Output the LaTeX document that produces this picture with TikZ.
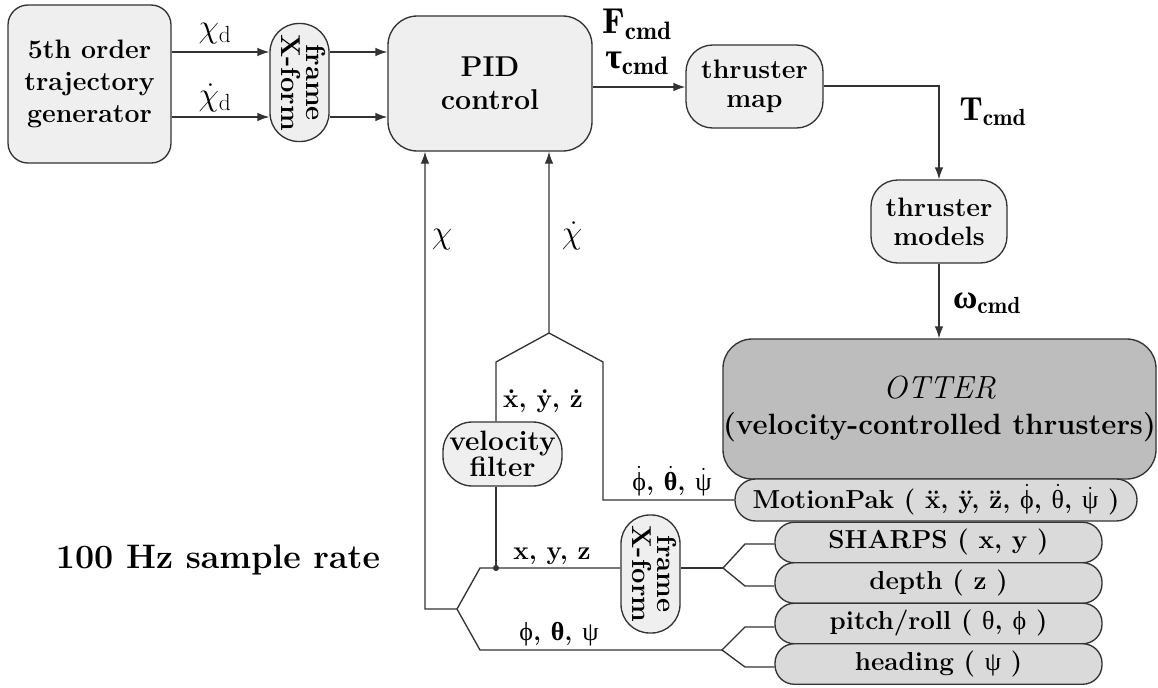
\documentclass[tikz,border=0pt]{standalone}
\usepackage{amsmath}
\usepackage{fontspec}
\newfontfamily\grk{Liberation Serif}
\newcommand\gk[1]{\text{\grk\mdseries #1}}
\newcommand\gkb[1]{\text{\grk\bfseries #1}}
\usetikzlibrary{arrows.meta}
\definecolor{lfill}{HTML}{EFEFEF}
\definecolor{mfill}{HTML}{DADADA}
\definecolor{dfill}{HTML}{BDBDBD}
\definecolor{lncol}{HTML}{333333}
\begin{document}
\begin{tikzpicture}[x=0.75pt,y=-0.75pt,
  every node/.style={font=\fontsize{19.5}{23}\selectfont\bfseries, text=black},
  box/.style={draw=lncol, line width=1pt, fill=lfill, align=center, inner sep=0pt},
  sensor/.style={box, fill=mfill, minimum width=327*.75pt, minimum height=40.5*.75pt, rounded corners=14.5pt},
  xform/.style={box, minimum width=59*.75pt, minimum height=118*.75pt, rounded corners=21.5pt,
      font=\fontsize{20.5}{21}\selectfont\bfseries},
  arr/.style={-{Latex[length=9pt,width=6.5pt]}},
  wire/.style={draw=lncol, line width=1pt},
  lbl/.style={inner sep=0pt}]
\useasboundingbox (0,0) rectangle (1158,687);

% nodes
\node[box, minimum width=163*.75pt, minimum height=158*.75pt, rounded corners=15pt,
      font=\fontsize{20}{24}\selectfont\bfseries] (gen) at (89.5,84) {5th order\\trajectory\\generator};
\node[xform] (fx1) at (299.5,82.5)
  {\rotatebox{-90}{\begin{tabular}{@{}c@{}}frame\\[-2.5pt]X-form\end{tabular}}};
\node[box, minimum width=204*.75pt, minimum height=135*.75pt, rounded corners=22pt,
      font=\fontsize{21.5}{25}\selectfont\bfseries] (pid) at (490,83.5) {PID\\control};
\node[box, minimum width=137*.75pt, minimum height=83*.75pt, rounded corners=20pt,
      font=\fontsize{20}{22}\selectfont\bfseries] (tmap) at (754.5,86.5) {thruster\\map};
\node[box, minimum width=136*.75pt, minimum height=83*.75pt, rounded corners=20pt,
      font=\fontsize{20}{22}\selectfont\bfseries] (tmod) at (939,221.5) {thruster\\models};
\node[box, fill=dfill, minimum width=433*.75pt, minimum height=140*.75pt, rounded corners=22pt,
      font=\fontsize{22}{27}\selectfont\bfseries] (otter) at (939.5,409)
  {{\fontsize{24}{27}\selectfont\mdseries\itshape OTTER}\\(velocity-controlled thrusters)};
\node[box, fill=mfill, minimum width=402*.75pt, minimum height=42*.75pt, rounded corners=15.5pt] (mpak) at (936,500)
  {MotionPak ( \"x, \"y, \"z, $\dot{\gk{ϕ}}$, $\dot{\gk{θ}}$, $\dot{\gk{ψ}}$ )};
\node[sensor] (sharps) at (938.5,542.5) {SHARPS ( x, y )};
\node[sensor] (depth) at (938.5,583) {depth ( z )};
\node[sensor] (pitch) at (938.5,623.5) {pitch/roll ( \gk{θ}, \gk{ϕ} )};
\node[sensor] (head) at (938.5,664) {heading ( \gk{ψ} )};
\node[box, minimum width=119*.75pt, minimum height=64*.75pt, rounded corners=22pt,
      font=\fontsize{21}{20}\selectfont\bfseries] (vf) at (502.5,454) {velocity\\filter};
\node[xform] (fx2) at (650.5,574)
  {\rotatebox{-90}{\begin{tabular}{@{}c@{}}frame\\[-2.5pt]X-form\end{tabular}}};

\coordinate (j) at (496,568);

% connectors
\draw[wire,arr] (gen.east |- 0,52) -- (fx1.west |- 0,52);
\draw[wire,arr] (gen.east |- 0,117) -- (fx1.west |- 0,117);
\draw[wire,arr] (fx1.east |- 0,52) -- (pid.west |- 0,52);
\draw[wire,arr] (fx1.east |- 0,117) -- (pid.west |- 0,117);
\draw[wire,arr] (pid.east |- 0,87) -- (tmap.west |- 0,87);
\draw[wire,arr] (tmap.east |- 0,86) -| (tmod.north);
\draw[wire,arr] (tmod.south) -- (tmod.south |- otter.north);
\draw[wire,arr] (mpak.west) -- (603,500) -- (603,362) -- (549,333) -- (pid.south -| 549,0);
\draw[wire] (549,333) -- (496,362) -- (vf.north -| 496,0);
\draw[wire] (vf.south -| 496,0) -- (j);
\draw[wire,arr] (fx2.west |- j) -- (480,568) -- (457,609) -- (425,609) -- (pid.south -| 425,0);
\draw[wire] (457,609) -- (480,650) -- (722,650);
\draw[wire] (fx2.east |- j) -- (723,568);
\draw[wire] (sharps.west |- 0,544) -- (745,544) -- (723,568) -- (745,586) -- (depth.west |- 0,586);
\draw[wire] (pitch.west |- 0,627) -- (745,627) -- (722,650) -- (745,667) -- (head.west |- 0,667);
\fill[lncol] (j) circle (2.3pt);

% labels
\node[lbl] at (215,34) {\fontsize{25}{25}\selectfont$\chi_{\mathrm{d}}$};
\node[lbl] at (215,98) {\fontsize{25}{25}\selectfont$\dot\chi_{\mathrm{d}}$};
\node[lbl] at (637,24) {\fontsize{27}{27}\selectfont$\mathbf{F}_{\mathbf{cmd}}$};
\node[lbl] at (637,63) {\fontsize{27}{27}\selectfont$\gkb{τ}_{\mathbf{cmd}}$};
\node[lbl] at (993,112) {\fontsize{25}{25}\selectfont$\mathbf{T}_{\mathbf{cmd}}$};
\node[lbl] at (987,303) {\fontsize{25}{25}\selectfont$\gkb{ω}_{\mathbf{cmd}}$};
\node[lbl] at (442,240) {\fontsize{26}{26}\selectfont$\chi$};
\node[lbl] at (572,236) {\fontsize{26}{26}\selectfont$\dot\chi$};
\node[lbl] at (543,401) {\.x, \.y, \.z};
\node[lbl] at (672,481) {$\dot{\gk{ϕ}}$, $\dot{\gkb{θ}}$, $\dot{\gk{ψ}}$};
\node[lbl] at (552,556) {x, y, z};
\node[lbl] at (559,634) {\gk{ϕ}, \gkb{θ}, \gk{ψ}};
\node[lbl] at (218,560) {\fontsize{25.5}{25.5}\selectfont 100 Hz sample rate};
\end{tikzpicture}
\end{document}
